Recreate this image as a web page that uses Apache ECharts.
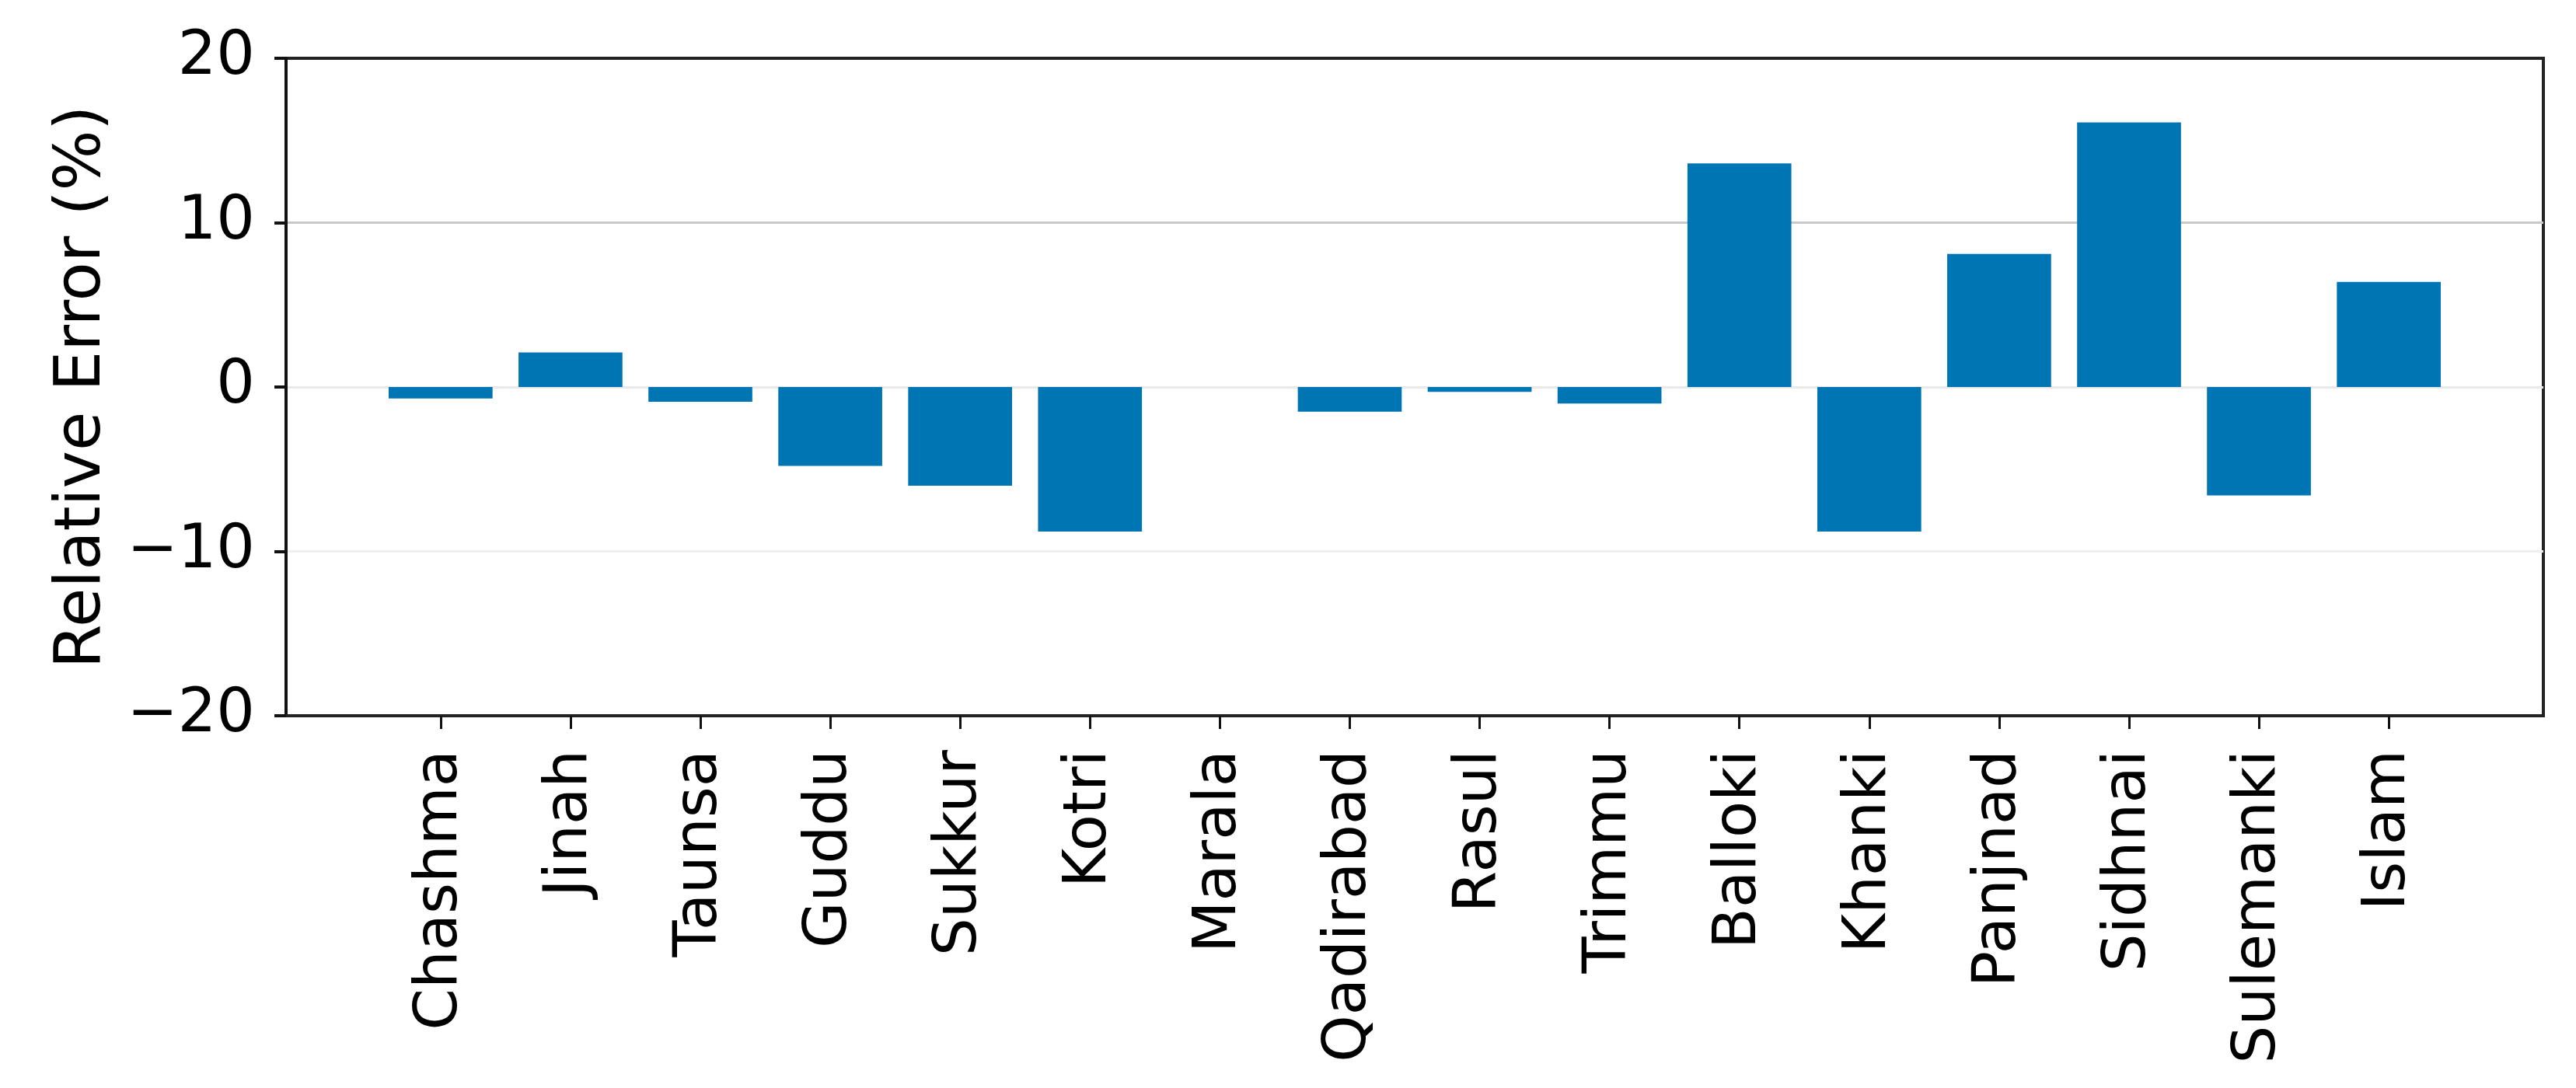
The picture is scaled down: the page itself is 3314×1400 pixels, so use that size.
<!DOCTYPE html>
<html>
<head>
<meta charset="utf-8">
<script src="https://cdn.jsdelivr.net/npm/echarts@6/dist/echarts.min.js"></script>
<style>
  html, body { margin: 0; padding: 0; background: #fff; }
  #chart { width: 3314px; height: 1400px; }
</style>
</head>
<body>
<div id="chart"></div>
<script>
const categories = ['Chashma', 'Jinah', 'Taunsa', 'Guddu', 'Sukkur', 'Kotri', 'Marala', 'Qadirabad',
  'Rasul', 'Trimmu', 'Balloki', 'Khanki', 'Panjnad', 'Sidhnai', 'Sulemanki', 'Islam'];
const relativeError = [-0.7, 2.1, -0.9, -4.8, -6.0, -8.8, 0, -1.5, -0.3, -1.0, 13.6, -8.8, 8.1, 16.1, -6.6, 6.4];
const yTicks = [-20, -10, 0, 10, 20];
const yLabel = 'Relative Error (%)';

const FONT = 'DejaVu Sans';
const gridLeft = 368, gridRight = 42, gridTop = 75, gridBottom = 479;
const xMin = -1.19, xMax = categories.length - 1 + 1.19;

const chart = echarts.init(document.getElementById('chart'), null, { renderer: 'canvas' });
const gridW = chart.getWidth() - gridLeft - gridRight;
const barW = 0.8 * gridW / (xMax - xMin);
const idx = categories.map((_, i) => i);

chart.setOption({
  backgroundColor: '#ffffff',
  animation: false,
  grid: {
    left: gridLeft, right: gridRight, top: gridTop, bottom: gridBottom,
    show: true, borderColor: '#222222', borderWidth: 4, backgroundColor: 'transparent'
  },
  xAxis: {
    type: 'value',
    min: xMin, max: xMax,
    axisLine: { show: true, onZero: false, lineStyle: { color: '#222222', width: 4 } },
    axisTick: { show: true, customValues: idx, length: 17, lineStyle: { color: '#111111', width: 3 } },
    axisLabel: {
      customValues: idx,
      formatter: v => categories[Math.round(v)],
      rotate: 90, margin: 44,
      fontFamily: FONT, fontSize: 77, color: '#000000'
    },
    splitLine: { show: false }
  },
  yAxis: {
    type: 'value',
    min: yTicks[0], max: yTicks[yTicks.length - 1], interval: 10,
    name: yLabel, nameLocation: 'middle', nameGap: 220,
    nameTextStyle: { fontFamily: FONT, fontSize: 82, color: '#000000' },
    axisLine: { show: true, onZero: false, lineStyle: { color: '#111111', width: 4 } },
    axisTick: { show: true, length: 15, lineStyle: { color: '#111111', width: 4 } },
    axisLabel: {
      margin: 40, fontFamily: FONT, fontSize: 78, color: '#000000',
      formatter: v => (v < 0 ? '\u2212' + Math.abs(v) : String(v))
    },
    splitLine: {
      show: true,
      lineStyle: { color: ['transparent', '#efefef', '#e9e9e9', '#c9c9c9', 'transparent'], width: 3 }
    }
  },
  series: [{
    type: 'bar',
    data: relativeError.map((v, i) => [i, v]),
    barWidth: barW,
    itemStyle: { color: '#0075B4' },
    z: 1
  }]
});
</script>
</body>
</html>
